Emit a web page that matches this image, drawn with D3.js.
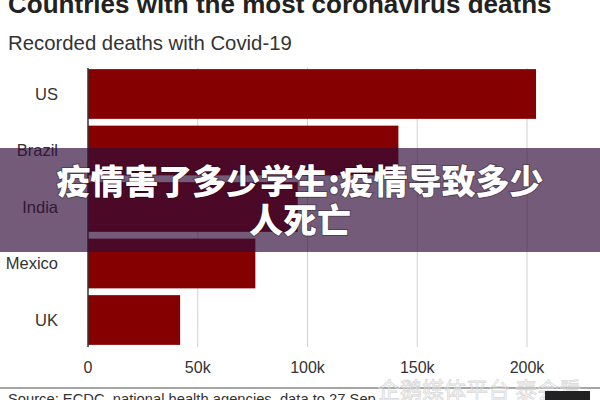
<!DOCTYPE html>
<html><head><meta charset="utf-8">
<script src="https://cdn.jsdelivr.net/npm/d3@7"></script>
<style>body{margin:0;background:#fff}svg{display:block}</style>
</head><body>
<svg id="c" width="600" height="400"></svg>
<script>
const countries = ["US","Brazil","India","Mexico","UK"];
const deaths = [204118,141406,95542,76243,41971];
const tickValues = [0,50000,100000,150000,200000];
const tickLabels = ["0","50k","100k","150k","200k"];
const titleText = "Countries with the most coronavirus deaths";
const subtitleText = "Recorded deaths with Covid-19";
const sourceText = "Source: ECDC, national health agencies, data to 27 Sep";
const overlayLines = ["疫情害了多少学生:疫情导致多少","人死亡"];
const watermarkText = "企鹅媒体平台 泰会看";

const svg = d3.select("#c");
const font = "'Liberation Sans', Arial, Helvetica, sans-serif";
const x = d3.scaleLinear().domain([0,200000]).range([88,527]);
const y = d3.scaleBand().domain(countries).range([68,346]).paddingInner(0.12).paddingOuter(0.02);

function fitWidth(sel, base, target){
  const w = sel.node().getComputedTextLength();
  sel.attr("font-size", base*target/w);
}

// title
const t = svg.append("text").attr("x",8).attr("y",13).attr("font-family",font)
  .attr("font-weight","bold").attr("font-size",26).attr("fill","#222").text(titleText);
fitWidth(t,26,544);
const s = svg.append("text").attr("x",8).attr("y",50).attr("font-family",font)
  .attr("font-size",18).attr("fill","#333").text(subtitleText);
fitWidth(s,18,284);

// gridlines
svg.append("g").selectAll("line").data(tickValues.slice(1)).join("line")
  .attr("x1",d=>x(d)).attr("x2",d=>x(d)).attr("y1",68).attr("y2",347)
  .attr("stroke","#d0d0d0").attr("stroke-width",1);

// bars
svg.append("g").selectAll("rect").data(countries).join("rect")
  .attr("x",x(0)).attr("y",d=>y(d)).attr("height",y.bandwidth())
  .attr("width",(d,i)=>x(deaths[i])-x(0)).attr("fill","#850000");

// axis line
svg.append("line").attr("x1",88).attr("x2",88).attr("y1",68).attr("y2",347)
  .attr("stroke","#333").attr("stroke-width",1.5);

// y labels
svg.append("g").selectAll("text").data(countries).join("text")
  .attr("x",58).attr("y",d=>y(d)+y.bandwidth()/2).attr("dy","0.35em")
  .attr("text-anchor","end").attr("font-family",font).attr("font-size",16.5)
  .attr("fill","#333").text(d=>d);

// x tick labels
svg.append("g").selectAll("text").data(tickValues).join("text")
  .attr("x",d=>x(d)).attr("y",367).attr("dy","0.35em").attr("text-anchor","middle")
  .attr("font-family",font).attr("font-size",16).attr("fill","#333")
  .text((d,i)=>tickLabels[i]);

// bottom rule + source
svg.append("line").attr("x1",0).attr("x2",600).attr("y1",388).attr("y2",388)
  .attr("stroke","#888").attr("stroke-width",1.5);
const src = svg.append("text").attr("x",8).attr("y",404).attr("font-family",font)
  .attr("font-size",15).attr("fill","#333").text(sourceText);
fitWidth(src,15,368);

// watermark
svg.append("text").attr("x",378).attr("y",398).attr("font-family","'Noto Sans CJK SC'")
  .attr("font-size",22).attr("fill","none").attr("stroke","#d8d8d8").attr("stroke-width",0.8)
  .text(watermarkText);
svg.append("rect").attr("x",545).attr("y",391).attr("width",45).attr("height",9).attr("fill","#222");

// overlay band
svg.append("rect").attr("x",0).attr("y",148).attr("width",600).attr("height",104)
  .attr("fill","rgb(48,14,58)").attr("opacity",0.68);
const ov = svg.append("g").selectAll("text").data(overlayLines).join("text")
  .attr("x",300).attr("y",(d,i)=>182+i*39).attr("dy","0.36em").attr("text-anchor","middle")
  .attr("font-family","'Noto Sans CJK SC'").attr("font-weight",900).attr("font-size",30)
  .attr("fill","#fff").style("paint-order","stroke").attr("stroke","rgba(0,0,0,0.3)")
  .attr("stroke-width",2).text(d=>d);
const w0 = ov.nodes()[0].getComputedTextLength();
ov.attr("font-size", 30*487/w0);
</script>
</body></html>
